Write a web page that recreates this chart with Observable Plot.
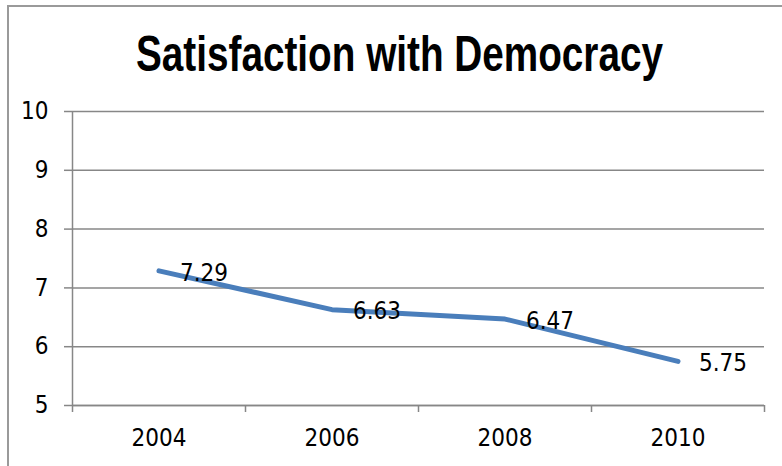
<!DOCTYPE html>
<html>
<head>
<meta charset="utf-8">
<script src="https://cdn.jsdelivr.net/npm/d3@7"></script>
<script src="https://cdn.jsdelivr.net/npm/@observablehq/plot@0.6"></script>
<style>
  html, body { margin: 0; padding: 0; background: #fff; overflow: hidden; width: 782px; height: 466px; }
  #frame { position: absolute; left: 7px; top: 5px; width: 900px; height: 600px; border: 2px solid #9a9a9a; box-sizing: border-box; }
  #chart { position: absolute; left: 0; top: 0; }
  #title { position: absolute; left: 0; top: 28.7px; width: 800px; text-align: center; white-space: nowrap;
           font-family: "Liberation Sans", Arial, sans-serif; font-weight: bold; font-size: 50px; line-height: 50px;
           color: #000; transform-origin: 399.5px 50%; }
</style>
</head>
<body>
<div id="frame"></div>
<div id="chart"></div>
<div id="title"></div>
<script>
const title = "Satisfaction with Democracy";
const years = [2004, 2006, 2008, 2010];
const values = [7.29, 6.63, 6.47, 5.75];
const labels = ["7.29", "6.63", "6.47", "5.75"];
const yTicks = [5, 6, 7, 8, 9, 10];
const xBoundaries = [2003, 2005, 2007, 2009, 2011];

const data = years.map((year, i) => ({year, value: values[i], label: labels[i]}));

const font = '"DejaVu Sans Condensed", "DejaVu Sans", sans-serif';
const gridColor = "#878787";

// title: condensed look by horizontal scaling to the reference width
const titleEl = document.getElementById("title");
titleEl.textContent = title;
const ctx = document.createElement("canvas").getContext("2d");
ctx.font = 'bold 50px "Liberation Sans", Arial, sans-serif';
const sx = 527 / ctx.measureText(title).width;
titleEl.style.width = "799px";
titleEl.style.transform = `scaleX(${sx})`;

const chart = Plot.plot({
  width: 782,
  height: 466,
  marginTop: 111,
  marginBottom: 61,
  marginLeft: 72,
  marginRight: 18,
  style: {fontFamily: font, fontSize: "24px", color: "#000", background: "transparent"},
  x: {domain: [2003, 2011]},
  y: {domain: [5, 10]},
  marks: [
    Plot.gridY(yTicks, {stroke: gridColor, strokeOpacity: 1, strokeWidth: 1.5}),
    Plot.ruleX([2003], {stroke: gridColor, strokeWidth: 1.5}),
    Plot.ruleY([5], {stroke: gridColor, strokeWidth: 1.5}),
    Plot.axisY(yTicks, {tickSize: 8, tickPadding: 16, stroke: gridColor, strokeWidth: 1.5, fill: "#000", tickFormat: d => String(d), label: null}),
    Plot.axisX(xBoundaries, {tickSize: 7, stroke: gridColor, strokeWidth: 1.5, tickFormat: () => "", label: null}),
    Plot.axisX(years, {tickSize: 0, tickPadding: 23, fill: "#000", tickFormat: d => String(d), label: null}),
    Plot.line(data, {x: "year", y: "value", stroke: "#4A7EBB", strokeWidth: 5, strokeLinecap: "round", strokeLinejoin: "round"}),
    Plot.text(data, {x: "year", y: "value", text: "label", dx: 21, dy: 2, textAnchor: "start", fill: "#000"})
  ]
});
document.getElementById("chart").appendChild(chart);
</script>
</body>
</html>
